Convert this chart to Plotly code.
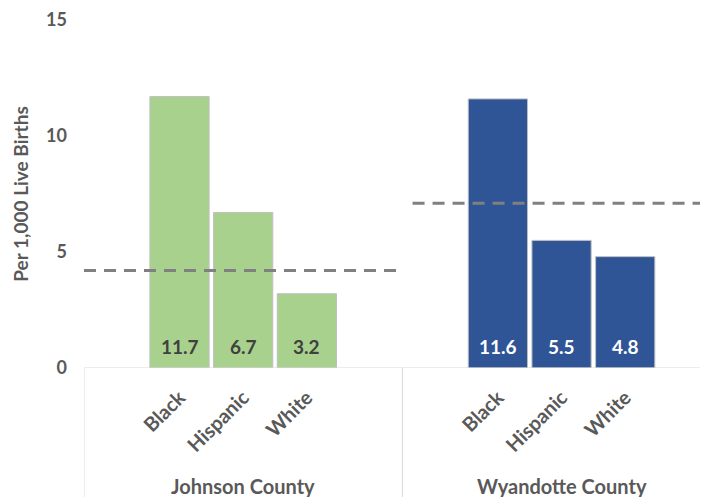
import plotly.graph_objects as go

counties = ["Johnson County", "Wyandotte County"]
races = ["Black", "Hispanic", "White"]
johnson_rates = [11.7, 6.7, 3.2]
wyandotte_rates = [11.6, 5.5, 4.8]
county_averages = [4.2, 7.1]
y_ticks = [0, 5, 10, 15]

series = [johnson_rates, wyandotte_rates]
fills = ["#a9d18e", "#2f5597"]
label_colors = ["#404040", "#ffffff"]
GROUP = 5  # slots per county group (1 blank, 3 bars, 1 blank)

# page body has an 8px default margin; compensate
W, H = 700, 489
M_L, M_T, M_B = 76, 12, 129
PLOT_H = H - M_T - M_B

fig = go.Figure()
font_family = "Lato, 'Noto Sans', sans-serif"
grey = "#595959"

tickvals, ticktext = [], []
annotations = []
for g, (county, vals) in enumerate(zip(counties, series)):
    xs = [g * GROUP + 1.5 + i for i in range(len(races))]
    tickvals += xs
    ticktext += races
    fig.add_trace(go.Bar(
        x=xs, y=vals, width=0.93,
        marker=dict(color=fills[g], line=dict(color="#bfbfbf", width=1)),
        showlegend=False, hoverinfo="skip",
    ))
    for x, v in zip(xs, vals):
        annotations.append(dict(
            x=x, y=0, xref="x", yref="y", text=f"<b>{v:.1f}</b>",
            showarrow=False, yanchor="bottom", yshift=8,
            font=dict(size=19, color=label_colors[g], family=font_family),
        ))
    # county average dashed line
    fig.add_trace(go.Scatter(
        x=[g * GROUP + (0.16 if g else 0.0), (g + 1) * GROUP - (0.3 if g else 0.0)],
        y=[county_averages[g]] * 2, mode="lines",
        line=dict(color="#808080", width=3, dash="12px,8px"),
        showlegend=False, hoverinfo="skip",
    ))
    annotations.append(dict(
        x=g * GROUP + GROUP / 2, y=-118 / PLOT_H, xref="x", yref="paper",
        text=f"<b>{county}</b>", showarrow=False, yanchor="middle",
        font=dict(size=20, color=grey, family=font_family),
    ))

shapes = [
    dict(type="line", xref="paper", yref="y", x0=0, x1=1, y0=0, y1=0,
         line=dict(color="#d9d9d9", width=1)),
]
for g in range(len(counties) + 1):
    shapes.append(dict(type="line", xref="x", yref="paper",
                       x0=g * GROUP, x1=g * GROUP, y0=0, y1=-0.4,
                       line=dict(color="#d9d9d9", width=1)))

fig.update_layout(
    width=W, height=H,
    margin=dict(l=M_L, r=0, t=M_T, b=M_B),
    paper_bgcolor="white", plot_bgcolor="white",
    barmode="overlay",
    font=dict(family=font_family, color=grey),
    xaxis=dict(range=[0, 9.8], tickvals=tickvals,
               ticktext=[f"<b>{t}</b>" for t in ticktext],
               tickangle=-45, showgrid=False, zeroline=False, showline=False,
               ticks="", ticklabelstandoff=13, automargin=False,
               tickfont=dict(size=20, color=grey, family=font_family)),
    yaxis=dict(range=[0, 15], tickvals=y_ticks,
               ticktext=[f"<b>{t}</b>" for t in y_ticks],
               showgrid=False, zeroline=False, showline=False, ticks="",
               ticklabelstandoff=16, automargin=False,
               tickfont=dict(size=18, color=grey, family=font_family),
               title=dict(text="<b>Per 1,000 Live Births</b>", standoff=12,
                          font=dict(size=19, color=grey, family=font_family))),
    shapes=shapes,
    annotations=annotations,
)

fig.write_html("out.html")
